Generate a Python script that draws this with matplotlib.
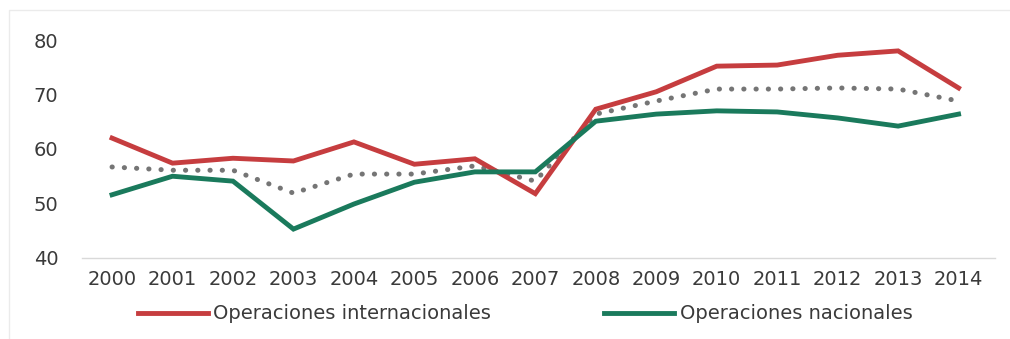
import matplotlib
matplotlib.use("Agg")
import matplotlib.pyplot as plt
from matplotlib.patches import Rectangle

years = ["2000", "2001", "2002", "2003", "2004", "2005", "2006", "2007",
         "2008", "2009", "2010", "2011", "2012", "2013", "2014"]
internacionales = [62.0, 57.4, 58.3, 57.8, 61.3, 57.2, 58.2, 51.8,
                   67.3, 70.5, 75.2, 75.4, 77.2, 78.0, 71.2]
nacionales = [51.6, 55.0, 54.1, 45.3, 49.9, 53.9, 55.8, 55.8,
              65.1, 66.4, 67.0, 66.8, 65.7, 64.2, 66.4]
promedio = [56.7, 56.1, 56.1, 51.9, 55.4, 55.4, 56.9, 54.1,
            66.4, 68.8, 71.0, 71.0, 71.2, 71.0, 68.8]
yticks = [40, 50, 60, 70, 80]

plt.rcParams['font.family'] = ['DejaVu Sans']
fig = plt.figure(figsize=(10.10, 3.39), dpi=100)
ax = fig.add_axes([0.081, 0.239, 0.904, 0.643])

x = list(range(len(years)))
red = "#C63D3F"
green = "#1A7A5C"
gray = "#757575"

ax.plot(x, promedio, color=gray, lw=3.6, linestyle=(0, (0.05, 2.4)),
        dash_capstyle='round', zorder=2)
l1, = ax.plot(x, internacionales, color=red, lw=3.5, solid_joinstyle='miter',
              label="Operaciones internacionales", zorder=3)
l2, = ax.plot(x, nacionales, color=green, lw=3.5, solid_joinstyle='miter',
              label="Operaciones nacionales", zorder=3)

ax.set_xlim(-0.5, 14.6)
ax.set_ylim(40, 80)
ax.set_yticks(yticks)
ax.set_xticks(x)
ax.set_xticklabels(years)
for s in ["top", "right", "left"]:
    ax.spines[s].set_visible(False)
ax.spines["bottom"].set_color("#D9D9D9")
ax.spines["bottom"].set_linewidth(1.0)
ax.tick_params(axis='both', length=0, labelsize=14, colors="#3A3A3A")
ax.tick_params(axis='y', pad=17)
ax.tick_params(axis='x', pad=9)

fig.legend(handles=[l1, l2], loc='center', bbox_to_anchor=(0.52, 0.074),
           ncol=2, frameon=False, fontsize=14, handlelength=3.6,
           handletextpad=0.3, columnspacing=5.8, labelcolor="#3A3A3A")

fig.patches.append(Rectangle((0.009, -0.1), 1.2, 1.07, transform=fig.transFigure,
                             fill=False, edgecolor="#EBEBEB", lw=1.0))

fig.savefig("out.png", dpi=100)
